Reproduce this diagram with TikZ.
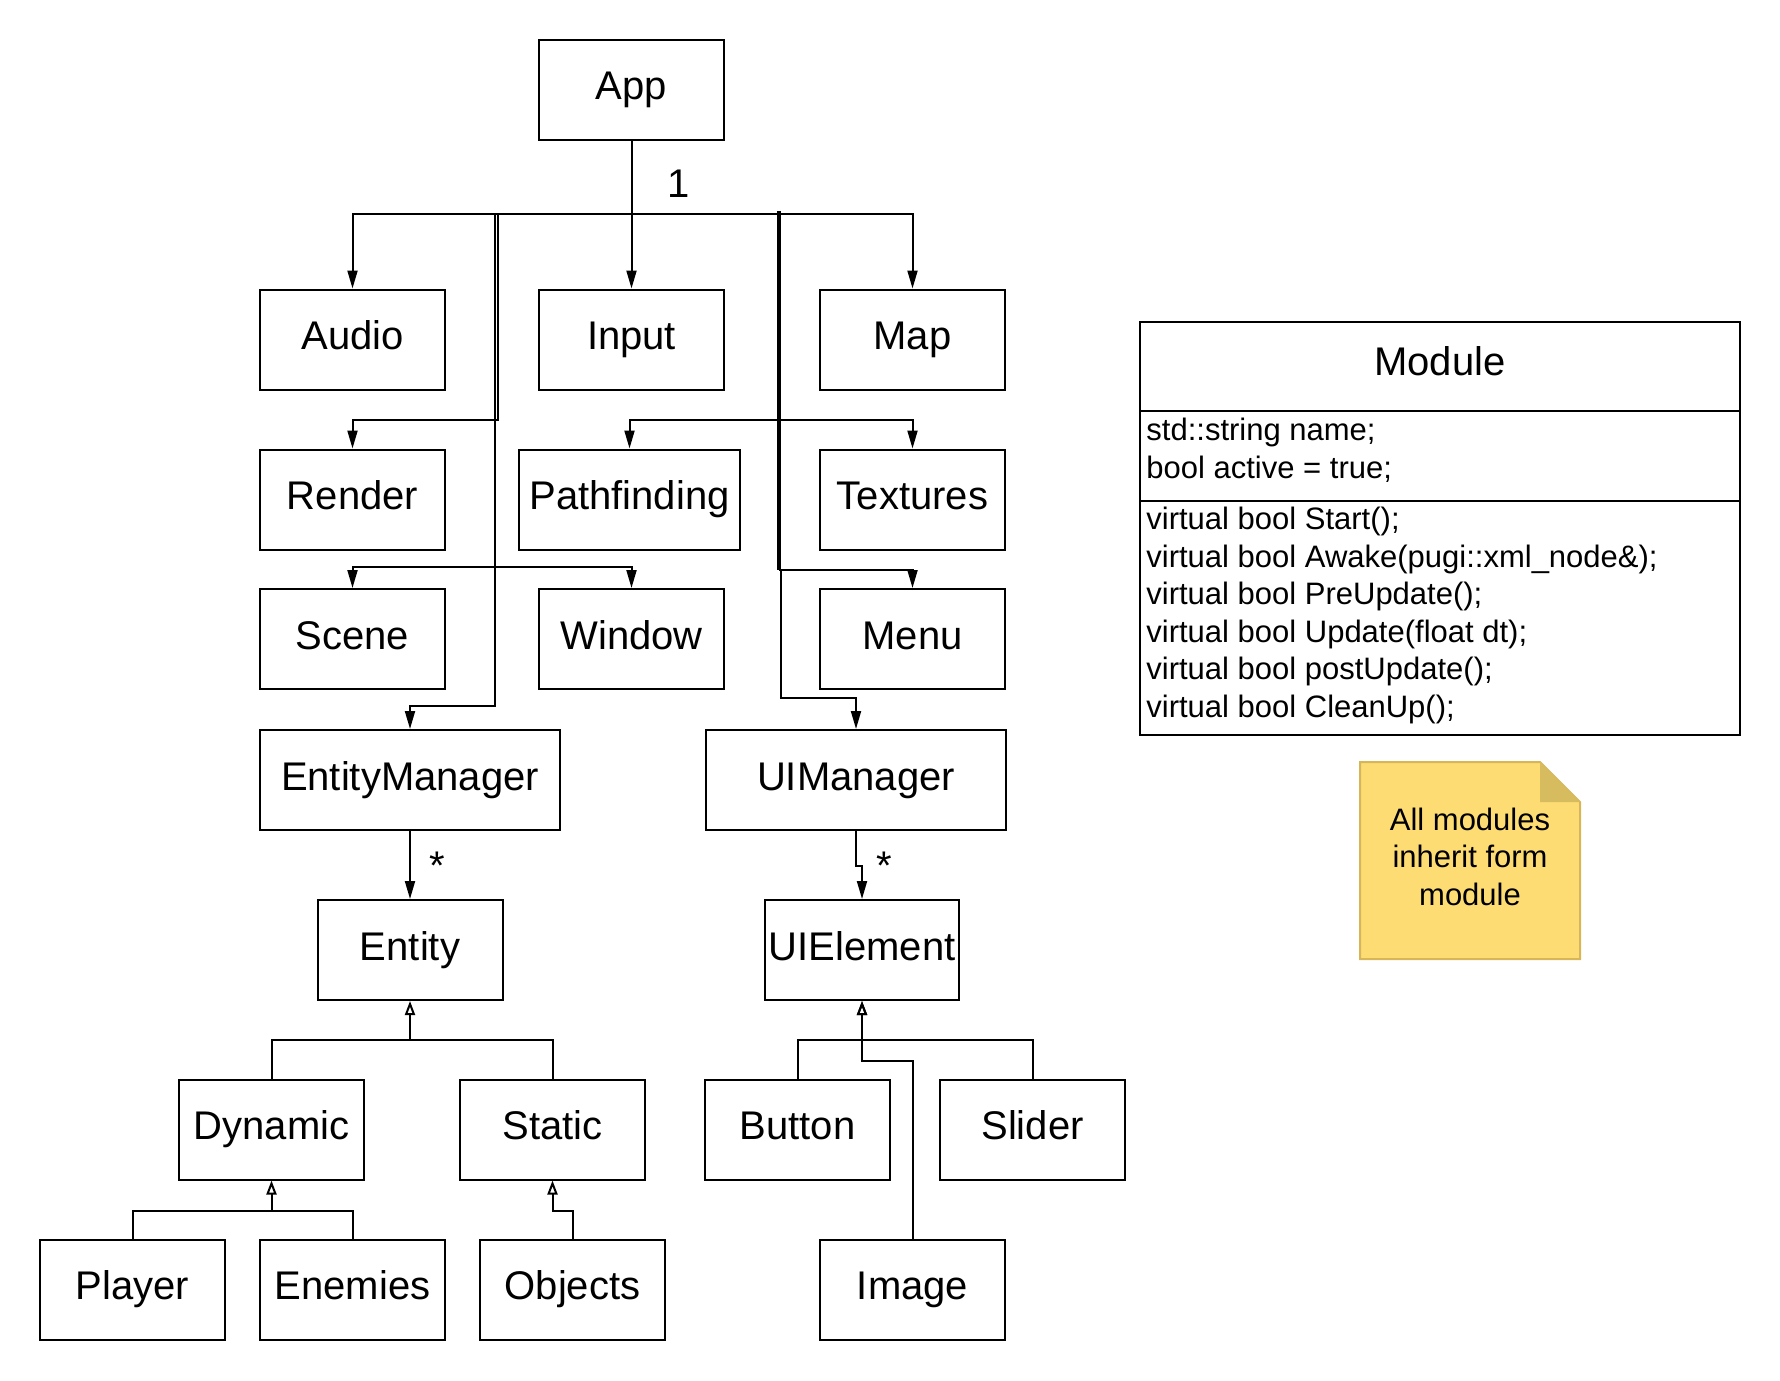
\documentclass[tikz,border=0pt]{standalone}
\usepackage{fontspec}
\setmainfont{Liberation Sans}
\usetikzlibrary{arrows.meta}
\definecolor{noteyellow}{HTML}{FEDC74}
\definecolor{noteline}{HTML}{D6B656}
\definecolor{notefold}{HTML}{D6BC5E}
\begin{document}
\begin{tikzpicture}[x=0.5pt,y=-0.5pt,
  box/.style={draw, line width=1pt, minimum width=92.5pt, minimum height=50pt, inner sep=0pt,
    font=\fontsize{20pt}{24pt}\selectfont, text height=15pt, text depth=5pt},
  conn/.style={line width=1pt, -{Triangle[length=9pt,width=5pt]}},
  inh/.style={line width=1pt, -{Triangle[open,length=7pt,width=5pt]}},
  plain/.style={line width=1pt},
  lbl/.style={font=\fontsize{20pt}{24pt}\selectfont, inner sep=0pt},
  attr/.style={anchor=base west, inner sep=0pt, font=\fontsize{15.5pt}{18.75pt}\selectfont},
  notetext/.style={anchor=base, inner sep=0pt, font=\fontsize{15.5pt}{18.75pt}\selectfont}
]
\useasboundingbox (0,0) rectangle (1780,1380);

% boxes
\node[box] (App) at (631.5,90) {App};
\node[box] (Audio) at (352.5,339.5) {Audio};
\node[box] (Input) at (631.5,339.5) {Input};
\node[box] (Map) at (912.5,339.5) {Map};
\node[box] (Render) at (352.5,499.5) {Render};
\node[box, minimum width=110.7pt] (Pathfinding) at (629.5,499.5) {Pathfinding};
\node[box] (Textures) at (912.5,499.5) {Textures};
\node[box] (Scene) at (352.5,639) {Scene};
\node[box] (Window) at (631.5,639) {Window};
\node[box] (Menu) at (912.5,639) {Menu};
\node[box, minimum width=150pt] (EntityManager) at (410,780) {EntityManager};
\node[box, minimum width=150pt] (UIManager) at (856,780) {UIManager};
\node[box] (Entity) at (410,950) {Entity};
\node[box, minimum width=97pt] (UIElement) at (862,950) {UIElement};
\node[box] (Dynamic) at (271.5,1129.5) {Dynamic};
\node[box] (Static) at (552.5,1129.5) {Static};
\node[box] (Button) at (797.5,1129.5) {Button};
\node[box] (Slider) at (1032.5,1129.5) {Slider};
\node[box] (Player) at (132.5,1289.5) {Player};
\node[box] (Enemies) at (352.5,1289.5) {Enemies};
\node[box] (Objects) at (572.5,1289.5) {Objects};
\node[box] (Image) at (912.5,1289.5) {Image};

% routing points
\coordinate (bus) at (631.5,214);
\coordinate (lvA) at (498,420);
\coordinate (lvB) at (495,706);
\coordinate (sw) at (495,567);
\coordinate (rtop) at (778.5,211);
\coordinate (rmid) at (778.5,420);
\coordinate (rlow) at (778.5,570);
\coordinate (ulow) at (781,570);
\coordinate (uturn) at (781,698);
\coordinate (ebus) at (410,1040);
\coordinate (dbus) at (271.5,1211);
\coordinate (sbus) at (552.5,1211);
\coordinate (ubus) at (862,1040);
\coordinate (ibus) at (862,1061);

% top connectors
\draw[conn] (App.south) -- (Input.north);
\draw[conn] (App.south) -- (bus) -| (Audio.north);
\draw[conn] (App.south) -- (bus) -| (Map.north);
\draw[conn] (bus) -| (lvA) -| (Render.north);
\draw[conn] (bus) -| (lvB) -| (EntityManager.north);
\draw[conn] (sw) -| (Scene.north);
\draw[conn] (sw) -| (Window.north);
\draw[line width=2pt] (rtop) -- (rlow);
\draw[conn] (rmid) -| (Pathfinding.north);
\draw[conn] (rmid) -| (Textures.north);
\draw[conn] (rlow) -| (Menu.north);
\draw[conn] (ulow) -- (uturn) -| (UIManager.north);

% managers
\draw[conn] (EntityManager.south) -- (Entity.north);
\draw[conn] (UIManager.south) -- ++(0,35) -| (UIElement.north);

% inheritance
\draw[inh] (Dynamic.north) |- (ebus) -- (Entity.south);
\draw[plain] (Static.north) |- (ebus);
\draw[inh] (Player.north) |- (dbus) -- (Dynamic.south);
\draw[plain] (Enemies.north) |- (dbus);
\draw[inh] (Objects.north) |- (sbus) -- (Static.south);
\draw[inh] (Button.north) |- (ubus) -- (UIElement.south);
\draw[plain] (Slider.north) |- (ubus);
\draw[inh] (Image.north) |- (ibus) -- (UIElement.south);

% labels
\node[lbl] (one) at (679,184) {1};
\node[lbl] (starE) at (437,866) {*};
\node[lbl] (starU) at (884,866) {*};

% Module class
\node[draw, line width=1pt, minimum width=300pt, minimum height=206.5pt, inner sep=0pt] (module) at (1440,528.5) {};
\draw[plain] (1140,411) -- (1740,411);
\draw[plain] (1140,501) -- (1740,501);
\node[anchor=base, inner sep=0pt, font=\fontsize{20pt}{24pt}\selectfont] (mtitle) at (1440,375) {Module};
\node[attr] (a1) at (1146,440) {std::string name;};
\node[attr] (a2) at (1146,478) {bool active = true;};
\node[attr] (m1) at (1146,529.5) {virtual bool Start();};
\node[attr] (m2) at (1146,567) {virtual bool Awake(pugi::xml\_node\&);};
\node[attr] (m3) at (1146,604.5) {virtual bool PreUpdate();};
\node[attr] (m4) at (1146,642) {virtual bool Update(float dt);};
\node[attr] (m5) at (1146,679.5) {virtual bool postUpdate();};
\node[attr] (m6) at (1146,717) {virtual bool CleanUp();};

% note
\draw[line width=1pt, draw=noteline, fill=noteyellow] (1360,762) -- (1540,762) -- (1580,802) -- (1580,959) -- (1360,959) -- cycle;
\fill[notefold] (1540,762) -- (1540,802) -- (1580,802) -- cycle;
\node[notetext] (n1) at (1470,830) {All modules};
\node[notetext] (n2) at (1470,867) {inherit form};
\node[notetext] (n3) at (1470,905) {module};
\end{tikzpicture}
\end{document}
